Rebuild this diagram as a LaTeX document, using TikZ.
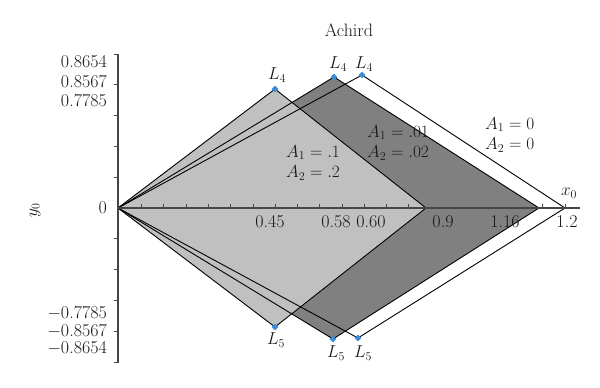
\documentclass[tikz,border=0pt]{standalone}
\usetikzlibrary{shapes.geometric}
\definecolor{lightfill}{RGB}{192,192,192}
\definecolor{darkfill}{RGB}{128,128,128}
\definecolor{axisgray}{RGB}{70,70,70}
\definecolor{markblue}{RGB}{60,140,220}
\definecolor{txt}{RGB}{25,25,25}
\begin{document}
\begin{tikzpicture}[x=1pt,y=-1pt,
  font=\fontsize{18}{20.5}\selectfont,
  edge/.style={black, line width=0.9pt, line join=miter},
  axisline/.style={axisgray, line width=1.3pt},
  tickline/.style={axisgray, line width=0.9pt},
  vmark/.style={diamond, fill=markblue, inner sep=0pt, minimum size=7pt},
  lbl/.style={inner sep=0pt, text=txt},
  eqn/.style={inner sep=0pt, anchor=west, align=left, text=txt},
]
\useasboundingbox (0,0) rectangle (600,388);
% vertices
\coordinate (O) at (118,208);
\coordinate (Ll4) at (275,89);
\coordinate (Ll5) at (275,327);
\coordinate (Rl) at (426,208);
\coordinate (Ld4) at (334,77);
\coordinate (Ld5) at (333,339);
\coordinate (Rd) at (539,208);
\coordinate (Lw4) at (362,75);
\coordinate (Lw5) at (358,338);
\coordinate (Rw) at (565,208);
% fills
\fill[white] (O)--(Lw4)--(Rw)--(Lw5)--cycle;
\fill[darkfill] (O)--(Ld4)--(Rd)--(Ld5)--cycle;
\fill[lightfill] (O)--(Ll4)--(Rl)--(Ll5)--cycle;
% outlines
\draw[edge] (O)--(Lw4)--(Rw)--(Lw5)--cycle;
\draw[edge] (O)--(Ld4)--(Rd)--(Ld5)--cycle;
\draw[edge] (O)--(Ll4)--(Rl)--(Ll5)--cycle;
% axes
\coordinate (Ytop) at (118,54);
\coordinate (Ybot) at (118,363);
\coordinate (Xend) at (580,208);
\draw[axisline] (Ytop)--(Ybot);
\draw[axisline] (O)--(Xend);
\foreach \k in {1,...,5} {
  \draw[tickline] (118,208-30.8*\k) -- ++(-4,0);
  \draw[tickline] (118,208+30.8*\k) -- ++(-4,0);
}
\foreach \xx in {141,163,186,208,230,253,275,297,319,342,364,386,408,542,565}
  \draw[tickline] (\xx,208) -- ++(0,-4);
% markers
\node[vmark] (m1) at (Ll4) {};
\node[vmark] (m2) at (Ld4) {};
\node[vmark] (m3) at (Lw4) {};
\node[vmark] (m4) at (Ll5) {};
\node[vmark] (m5) at (Ld5) {};
\node[vmark] (m6) at (Lw5) {};
% vertex labels
\node[lbl] (t1) at (277,75) {$L_4$};
\node[lbl] (t2) at (338,64) {$L_4$};
\node[lbl] (t3) at (364,64) {$L_4$};
\node[lbl] (t4) at (276,340) {$L_5$};
\node[lbl] (t5) at (336,353) {$L_5$};
\node[lbl] (t6) at (363,353) {$L_5$};
% title
\node[lbl] (title) at (349,30) {Achird};
% y axis labels
\node[lbl, anchor=east] (y1) at (107,62) {0.8654};
\node[lbl, anchor=east] (y2) at (107,82) {0.8567};
\node[lbl, anchor=east] (y3) at (107,101) {0.7785};
\node[lbl, anchor=east] (y0) at (107,208) {0};
\node[lbl, anchor=east] (y4) at (107,313) {$-$0.7785};
\node[lbl, anchor=east] (y5) at (107,331) {$-$0.8567};
\node[lbl, anchor=east] (y6) at (107,348) {$-$0.8654};
\node[lbl, rotate=90] (ylab) at (35,210) {$y_0$};
% x axis labels
\node[lbl] (x1) at (270,222) {0.45};
\node[lbl] (x2) at (336,222) {0.58};
\node[lbl] (x3) at (371,222) {0.60};
\node[lbl] (x4) at (443,222) {0.9};
\node[lbl] (x5) at (505,222) {1.16};
\node[lbl] (x6) at (567,222) {1.2};
\node[lbl] (xlab) at (569,193) {$x_0$};
% region labels
\node[eqn] (e1) at (286,163) {$A_1 = .1$\\$A_2 = .2$};
\node[eqn] (e2) at (367,143) {$A_1 = .01$\\$A_2 = .02$};
\node[eqn] (e3) at (485,135) {$A_1 = 0$\\$A_2 = 0$};
\end{tikzpicture}
\end{document}
